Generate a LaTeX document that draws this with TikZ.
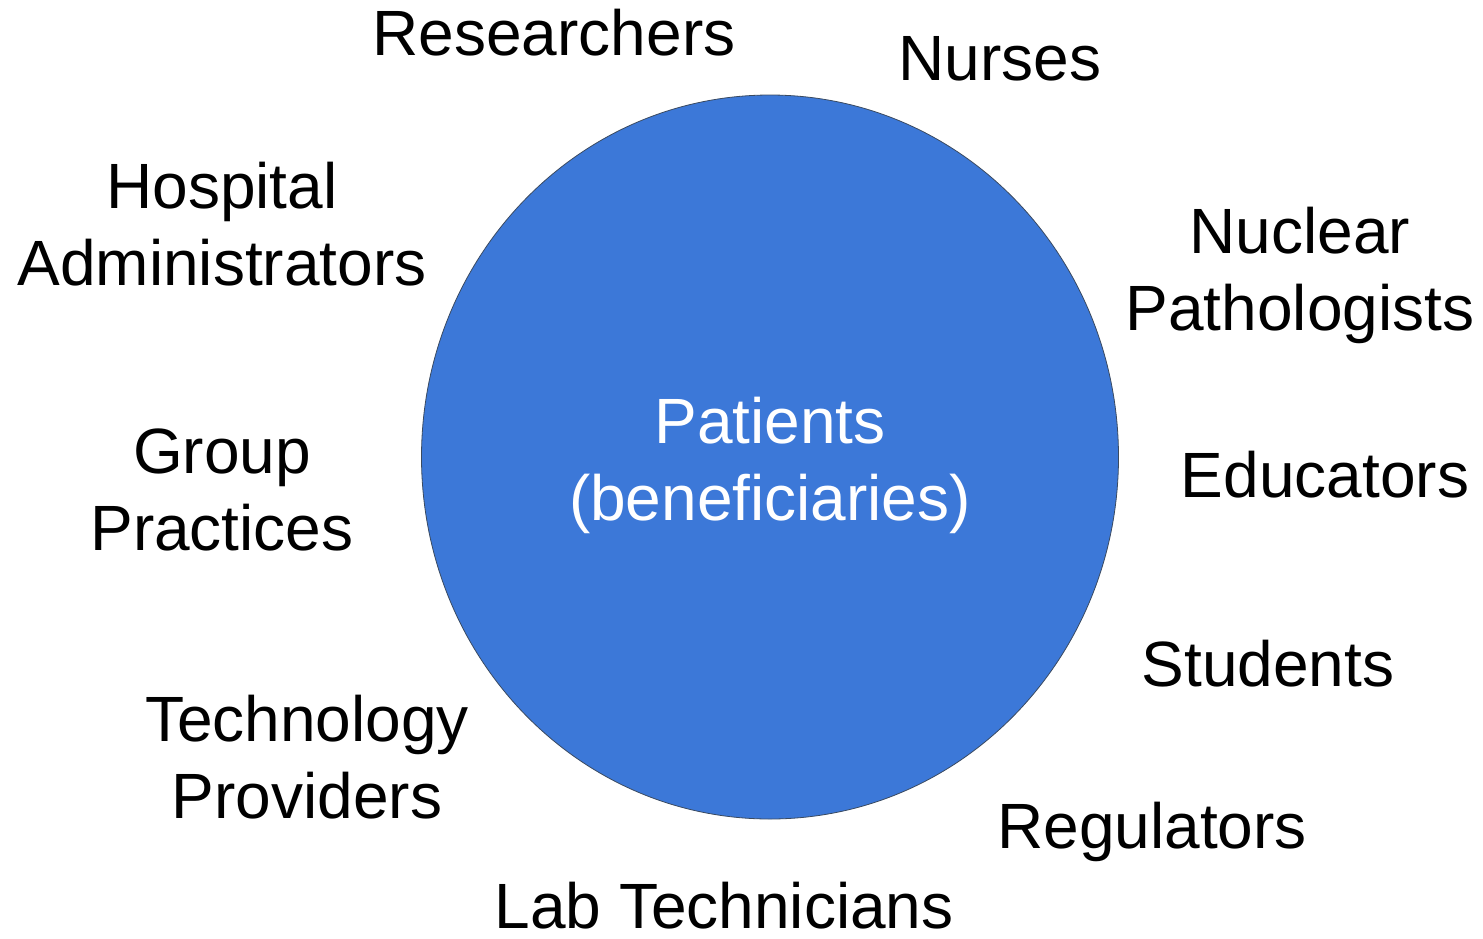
\documentclass[tikz,border=0pt]{standalone}
\usepackage{fontspec}
\setmainfont{Liberation Sans}
\usetikzlibrary{shapes.geometric}
\definecolor{patblue}{HTML}{3C78D8}
\definecolor{rimgray}{HTML}{3A4A60}
\begin{document}
\begin{tikzpicture}[x=1pt,y=-1pt,
  lbl/.style={font=\fontsize{64}{77}\selectfont, align=center, inner sep=0pt, anchor=base, text=black}]
\useasboundingbox (0,0) rectangle (1483,938);
\node[ellipse, minimum width=697pt, minimum height=724pt, inner sep=0pt, fill=patblue, draw=rimgray, line width=0.8pt] (pat) at (770,457) {};
\node[lbl, text=white] (pattxt) at (770,520) {Patients\\(beneficiaries)};
\node[lbl] (res) at (554,55) {Researchers};
\node[lbl] (nur) at (1000,80) {Nurses};
\node[lbl] (hos) at (222,285) {Hospital\\Administrators};
\node[lbl] (nuc) at (1300,330) {Nuclear\\Pathologists};
\node[lbl] (grp) at (222,550) {Group\\Practices};
\node[lbl] (edu) at (1325,497) {Educators};
\node[lbl] (stu) at (1268,686) {Students};
\node[lbl] (tec) at (307,818) {Technology\\Providers};
\node[lbl] (reg) at (1152,848) {Regulators};
\node[lbl] (lab) at (724,928) {Lab Technicians};
\end{tikzpicture}
\end{document}
